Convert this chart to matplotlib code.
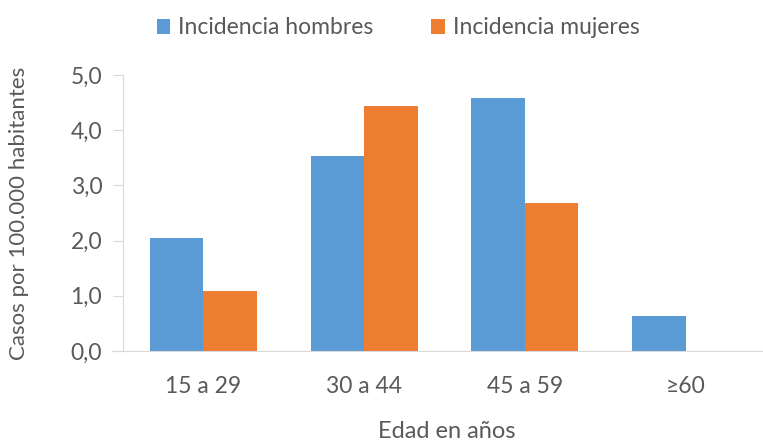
import matplotlib
matplotlib.use("Agg")
import matplotlib.pyplot as plt
import numpy as np

# ==== Daten ====
grupos = ["15 a 29", "30 a 44", "45 a 59", "≥60"]
hombres = [2.05, 3.54, 4.58, 0.63]
mujeres = [1.09, 4.43, 2.68, 0.0]

AZUL = "#5B9BD5"
NARANJA = "#ED7D31"
GRIS = "#595959"

plt.rcParams["font.family"] = ["Lato", "DejaVu Sans"]

fig = plt.figure(figsize=(7.63, 4.41), dpi=100)
ax = fig.add_axes([123 / 763, 1 - 351 / 441, 1 - 123 / 763 + 0.004, (351 - 75) / 441])

x = np.arange(len(grupos))
w = 0.333
ax.bar(x - w / 2, hombres, w, color=AZUL, label="Incidencia hombres")
ax.bar(x + w / 2, mujeres, w, color=NARANJA, label="Incidencia mujeres")

ax.set_xlim(-0.5, 3.5)
ax.set_ylim(0, 5)
ax.set_yticks(np.arange(0, 5.1, 1))
ax.set_yticklabels([f"{v:.1f}".replace(".", ",") for v in np.arange(0, 5.1, 1)])
ax.set_xticks(x)
ax.set_xticklabels(grupos)

ax.tick_params(axis="y", colors="#D9D9D9", labelcolor=GRIS, labelsize=16.5, length=7, pad=8)
ax.tick_params(axis="x", length=0, labelcolor=GRIS, labelsize=16.5, pad=18)

for s in ["top", "right"]:
    ax.spines[s].set_visible(False)
ax.spines["left"].set_color("#D9D9D9")
ax.spines["bottom"].set_color("#D9D9D9")
ax.spines["bottom"].set_bounds(-0.57, 3.5)

ax.set_ylabel("Casos por 100.000 habitantes", color=GRIS, fontsize=16, labelpad=30)
fig.text(447 / 763, 1 - 431 / 441, "Edad en años", color=GRIS, fontsize=17,
         ha="center", va="center")

fig.legend(loc="center", bbox_to_anchor=(398 / 763, 1 - 28 / 441), ncol=2, frameon=False,
           fontsize=16.5, labelcolor=GRIS, handlelength=0.6, handleheight=0.6,
           handletextpad=0.35, columnspacing=2.5)

fig.savefig("out.png", dpi=100)
